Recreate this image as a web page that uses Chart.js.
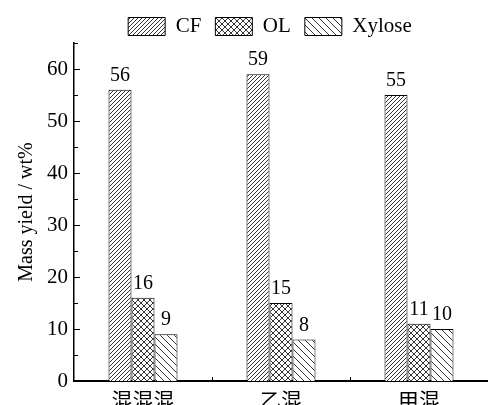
<!DOCTYPE html>
<html>
<head>
<meta charset="utf-8">
<script src="https://cdn.jsdelivr.net/npm/chart.js@4/dist/chart.umd.min.js"></script>
<style>
  html, body { margin: 0; padding: 0; background: #fff; }
  #wrap { width: 488px; height: 405px; }
</style>
</head>
<body>
<div id="wrap"><canvas id="barChart"></canvas></div>
<script>
const categories = ['混混混', '乙混', '甲混'];
const cfValues = [56, 59, 55];
const olValues = [16, 15, 11];
const xyloseValues = [9, 8, 10];
const yTicks = [0, 10, 20, 30, 40, 50, 60];

// hatch fills like the original figure
function hatch(size, draw) {
  const c = document.createElement('canvas');
  c.width = size; c.height = size;
  const g = c.getContext('2d');
  g.fillStyle = '#fff';
  g.fillRect(0, 0, size, size);
  g.strokeStyle = '#000';
  g.lineWidth = 0.8;
  draw(g, size);
  return document.getElementById('barChart').getContext('2d').createPattern(c, 'repeat');
}
function fwd(g, s) { // "/"
  g.beginPath();
  g.moveTo(-1, s + 1); g.lineTo(s + 1, -1);
  g.moveTo(-1, 1); g.lineTo(1, -1);
  g.moveTo(s - 1, s + 1); g.lineTo(s + 1, s - 1);
  g.stroke();
}
function back(g, s) { // "\"
  g.beginPath();
  g.moveTo(-1, -1); g.lineTo(s + 1, s + 1);
  g.moveTo(s - 1, -1); g.lineTo(s + 1, 1);
  g.moveTo(-1, s - 1); g.lineTo(1, s + 1);
  g.stroke();
}
const cfFill = hatch(4, fwd);
const olFill = hatch(6, (g, s) => { fwd(g, s); back(g, s); });
const xyFill = hatch(7, back);

const serif = '"Liberation Serif", "Times New Roman", serif';

const innerTicks = {
  id: 'innerTicks',
  afterLayout(chart) {
    // legend in the original sits a bit right of the page centre
    chart.legend.left += 41;
    chart.legend.top += 4;
  },
  afterDraw(chart) {
    const { ctx, scales: { x, y }, chartArea } = chart;
    ctx.save();
    ctx.strokeStyle = '#000';
    ctx.lineWidth = 1;
    ctx.beginPath();
    for (let v = 0; v <= 65; v += 5) {
      const py = Math.round(y.getPixelForValue(v)) + 0.5;
      const len = v % 10 === 0 ? 6 : 4;
      ctx.moveTo(chartArea.left, py);
      ctx.lineTo(chartArea.left + len, py);
    }
    const step = (chartArea.right - chartArea.left) / categories.length;
    for (let i = 1; i < categories.length; i++) {
      const px = Math.round(chartArea.left + step * i) + 0.5;
      ctx.moveTo(px, chartArea.bottom);
      ctx.lineTo(px, chartArea.bottom - 4);
    }
    ctx.stroke();
    ctx.beginPath();
    ctx.moveTo(chartArea.left, chartArea.top + 0.5);
    ctx.lineTo(chartArea.left + 4, chartArea.top + 0.5);
    ctx.stroke();

    // value labels above bars
    ctx.fillStyle = '#000';
    ctx.font = '20px ' + serif;
    ctx.textAlign = 'center';
    ctx.textBaseline = 'bottom';
    chart.data.datasets.forEach((ds, di) => {
      chart.getDatasetMeta(di).data.forEach((bar, i) => {
        ctx.fillText(ds.data[i], bar.x, bar.y - 4);
      });
    });
    ctx.restore();
  }
};

new Chart(document.getElementById('barChart'), {
  type: 'bar',
  data: {
    labels: categories,
    datasets: [
      { label: 'CF', data: cfValues, backgroundColor: cfFill, borderColor: '#000', borderWidth: 1 },
      { label: 'OL', data: olValues, backgroundColor: olFill, borderColor: '#000', borderWidth: 1 },
      { label: 'Xylose', data: xyloseValues, backgroundColor: xyFill, borderColor: '#000', borderWidth: 1 }
    ]
  },
  options: {
    responsive: true,
    maintainAspectRatio: false,
    animation: false,
    layout: { padding: { top: -2, right: 0, bottom: 0, left: 11 } },
    datasets: { bar: { barPercentage: 1, categoryPercentage: 0.5 } },
    plugins: {
      legend: {
        position: 'top',
        labels: {
          color: '#000',
          font: { family: serif, size: 21 },
          boxWidth: 37,
          boxHeight: 18,
          padding: 14
        }
      },
      tooltip: { enabled: false }
    },
    scales: {
      x: {
        grid: { display: false, drawTicks: false },
        border: { display: true, color: '#000', width: 2 },
        afterFit(axis) { axis.height = 24; },
        ticks: {
          color: '#000',
          padding: 6,
          font: { family: '"Noto Sans CJK SC", sans-serif', size: 21 }
        }
      },
      y: {
        min: 0,
        max: 65,
        afterBuildTicks(axis) { axis.ticks = yTicks.map(v => ({ value: v })); },
        grid: { display: false, drawTicks: false },
        border: { display: true, color: '#000', width: 1.5 },
        ticks: {
          color: '#000',
          padding: 6,
          font: { family: serif, size: 21 }
        },
        title: {
          display: true,
          text: 'Mass yield / wt%',
          color: '#000',
          font: { family: serif, size: 20 },
          padding: { bottom: 2 }
        }
      }
    }
  },
  plugins: [innerTicks]
});
</script>
</body>
</html>
